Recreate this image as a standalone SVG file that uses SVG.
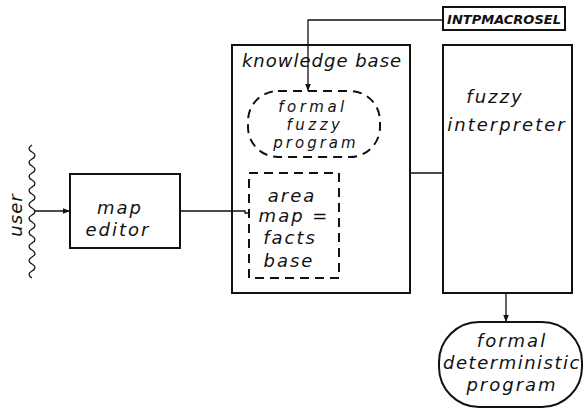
<svg xmlns="http://www.w3.org/2000/svg" width="584" height="409" viewBox="0 0 584 409">
<defs>
<style>
.box{fill:none;stroke:#111;stroke-width:2}
.dash{fill:none;stroke:#111;stroke-width:2;stroke-dasharray:9,6}
.ln{fill:none;stroke:#111;stroke-width:1.3}
.t{font-family:"DejaVu Sans",sans-serif;font-style:italic;font-size:18px;letter-spacing:2px;fill:#111;text-anchor:middle}
.ts{font-family:"DejaVu Sans",sans-serif;font-style:italic;font-size:15px;letter-spacing:3.5px;fill:#111;text-anchor:middle}
.tb{font-family:"DejaVu Sans",sans-serif;font-style:italic;font-weight:bold;font-size:13px;fill:#111;text-anchor:middle}
</style>
<marker id="ah" viewBox="0 0 10 10" refX="10" refY="5" markerWidth="7" markerHeight="7" orient="auto" markerUnits="userSpaceOnUse">
<path d="M0,1 L10,5 L0,9 Z" fill="#111"/>
</marker>
</defs>
<rect width="584" height="409" fill="#fff"/>
<g id="user">
<path class="ln" stroke-width="1.8" d="M32,145 q-6,3.5 0,7 q6,3.5 0,7 q-6,3.5 0,7 q6,3.5 0,7 q-6,3.5 0,7 q6,3.5 0,7 q-6,3.5 0,7 q6,3.5 0,7 q-6,3.5 0,7 q6,3.5 0,7 q-6,3.5 0,7 q6,3.5 0,7 q-6,3.5 0,7 q6,3.5 0,7 q-6,3.5 0,7 q6,3.5 0,7 q-6,3.5 0,7 q6,3.5 0,7 q-6,3.5 0,7"/>
<text class="t" style="letter-spacing:1px" transform="translate(22,215) rotate(-90)">user</text>
</g>
<g id="map-editor">
<rect class="box" x="70" y="174" width="110" height="74"/>
<text class="t" x="120" y="214">map</text>
<text class="t" x="118" y="236">editor</text>
</g>
<g id="knowledge-base">
<rect class="box" x="232" y="45" width="178" height="248"/>
<text class="t" style="letter-spacing:1px" x="322" y="67">knowledge base</text>
</g>
<g id="formal-fuzzy-program">
<rect class="dash" x="248" y="91" width="132" height="66" rx="30" ry="30"/>
<text class="ts" x="313" y="112">formal</text>
<text class="ts" x="315" y="130">fuzzy</text>
<text class="ts" style="letter-spacing:3px" x="316" y="148">program</text>
</g>
<g id="area-map">
<rect class="dash" x="249" y="173" width="90" height="105"/>
<text class="t" x="292" y="202">area</text>
<text class="t" x="294" y="222">map =</text>
<text class="t" x="290" y="244">facts</text>
<text class="t" x="289" y="267">base</text>
</g>
<g id="fuzzy-interpreter">
<rect class="box" x="443" y="45" width="129" height="248"/>
<text class="t" x="495" y="103">fuzzy</text>
<text class="t" x="507" y="131">interpreter</text>
</g>
<g id="intpmacrosel">
<rect class="box" x="443" y="7" width="122" height="23"/>
<text class="tb" x="504" y="24">INTPMACROSEL</text>
</g>
<g id="formal-deterministic-program">
<rect class="box" x="439" y="322" width="143" height="85" rx="40" ry="40"/>
<text class="t" x="512" y="347">formal</text>
<text class="t" style="letter-spacing:1.5px" x="512" y="369">deterministic</text>
<text class="t" x="512" y="391">program</text>
</g>
<g id="connectors">
<line class="ln" x1="34" y1="211" x2="70" y2="211" marker-end="url(#ah)"/>
<polyline class="ln" points="180,211 245,211 245,213 249,213"/>
<line class="ln" x1="410" y1="173" x2="443" y2="173"/>
<polyline class="ln" points="443,20 308,20 308,91" marker-end="url(#ah)"/>
<line class="ln" x1="506" y1="293" x2="506" y2="322" marker-end="url(#ah)"/>
</g>
</svg>
